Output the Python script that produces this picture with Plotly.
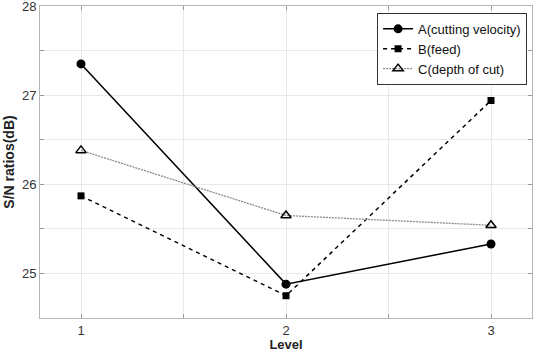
import plotly.graph_objects as go

levels = [1, 2, 3]
a_vals = [27.35, 24.88, 25.33]
b_vals = [25.87, 24.75, 26.94]
c_vals = [26.38, 25.65, 25.54]
names = ["A(cutting velocity)", "B(feed)", "C(depth of cut)"]
x_ticks = [1, 1.5, 2, 2.5, 3]
x_labels = ["1", "", "2", "", "3"]
y_ticks = [24.5, 25, 25.5, 26, 26.5, 27, 27.5, 28]
y_labels = ["", "25", "", "26", "", "27", "", "28"]

fig = go.Figure()
fig.add_trace(go.Scatter(x=levels, y=a_vals, name=names[0], mode="lines+markers",
                         line=dict(color="black", width=1.5, dash="solid"),
                         marker=dict(symbol="circle", size=9, color="black")))
fig.add_trace(go.Scatter(x=levels, y=b_vals, name=names[1], mode="lines+markers",
                         line=dict(color="black", width=1.5, dash="4px,4px"),
                         marker=dict(symbol="square", size=7, color="black")))
fig.add_trace(go.Scatter(x=levels, y=c_vals, name=names[2], mode="lines+markers",
                         line=dict(color="#8a8a8a", width=1.3, dash="2px,1px"),
                         marker=dict(symbol="triangle-up-open", size=9, color="black",
                                     line=dict(width=1.5, color="black"))))

font_fam = "Liberation Sans, Arial"
axis_common = dict(showline=True, linecolor="#b5b5b5", linewidth=1, mirror="ticks",
                   ticks="inside", ticklen=4, tickcolor="#9a9a9a",
                   showgrid=True, gridcolor="#e8e8e8", gridwidth=1, zeroline=False,
                   ticklabeloverflow="allow", automargin=False,
                   tickfont=dict(family=font_fam, size=13, color="#333333"))

fig.update_layout(
    width=534, height=352,
    margin=dict(l=40, r=2, t=6, b=34),
    plot_bgcolor="white", paper_bgcolor="white",
    xaxis=dict(range=[0.8, 3.2], tickmode="array", tickvals=x_ticks, ticktext=x_labels,
               title=dict(text="<b>Level</b>", standoff=3,
                          font=dict(family=font_fam, size=13, color="#222222")),
               **axis_common),
    yaxis=dict(range=[24.5, 28], tickmode="array", tickvals=y_ticks, ticktext=y_labels,
               title=dict(text="<b>S/N ratios(dB)</b>", standoff=4,
                          font=dict(family=font_fam, size=14, color="#222222")),
               **axis_common),
    legend=dict(x=0.99, y=0.978, xanchor="right", yanchor="top",
                bgcolor="white", bordercolor="#333333", borderwidth=1,
                font=dict(family=font_fam, size=13, color="#111111"),
                tracegroupgap=0, itemwidth=30),
    showlegend=True,
)

fig.write_html("out.html")
